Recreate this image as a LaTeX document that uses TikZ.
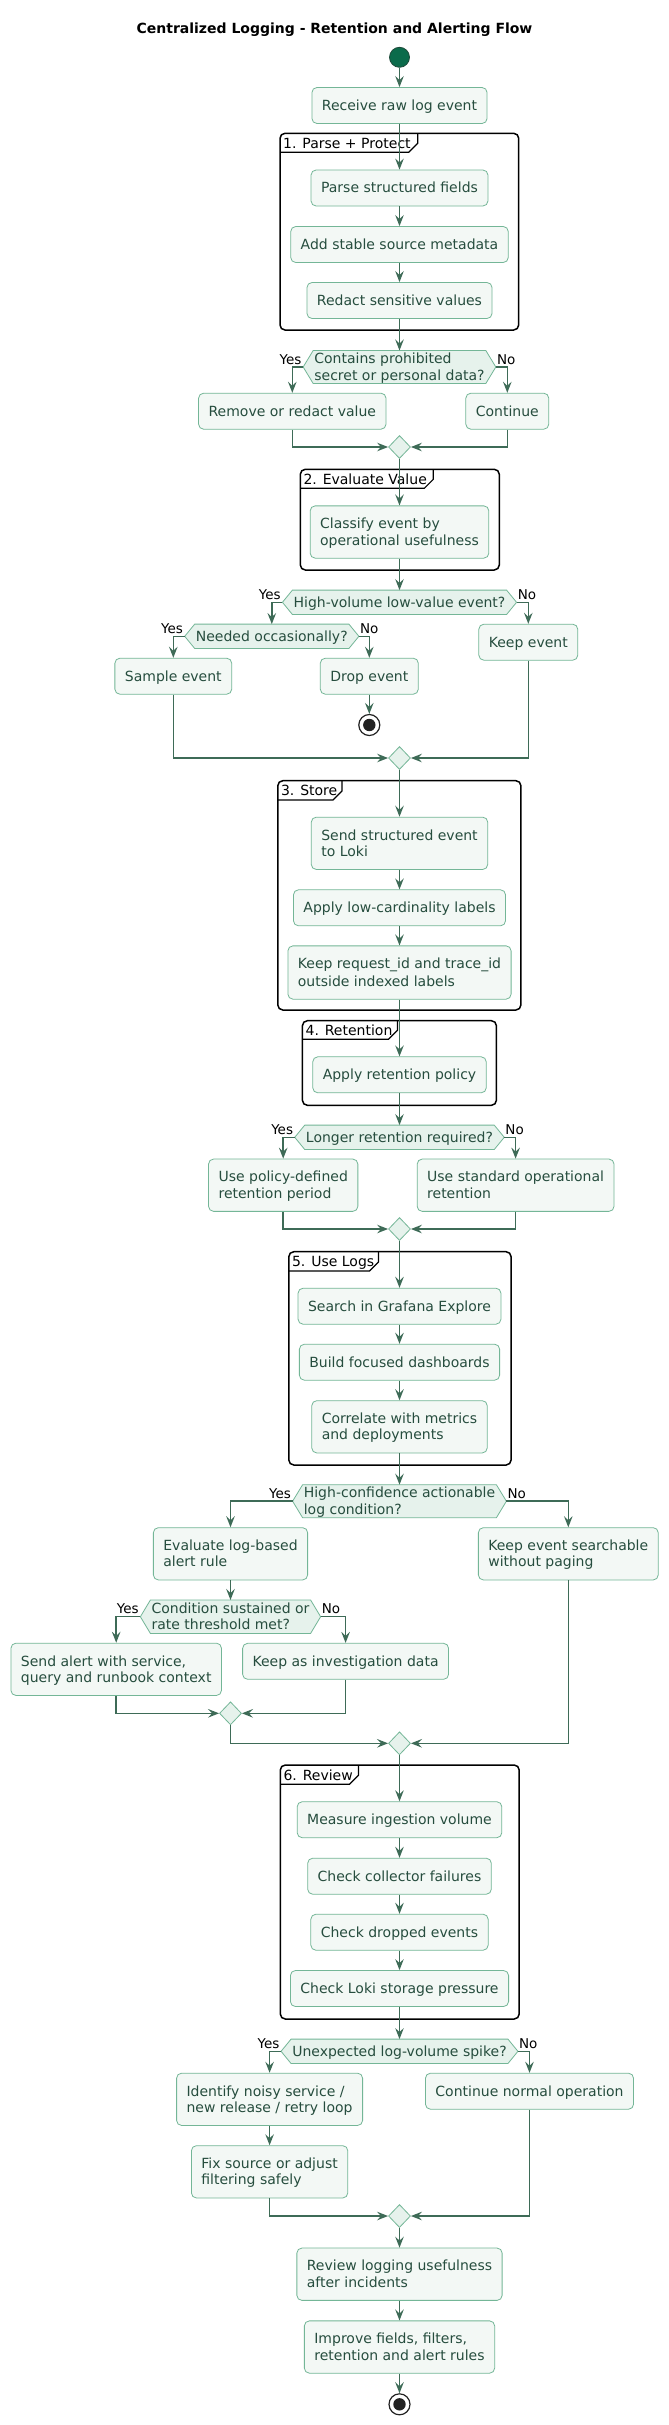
\documentclass[tikz,border=0pt]{standalone}
\usepackage{fontspec}
\setmainfont{DejaVu Sans}
\usetikzlibrary{arrows.meta,shapes.geometric,backgrounds,calc}
\definecolor{arrowc}{HTML}{3E6B57}
\definecolor{boxborder}{HTML}{74B697}
\definecolor{boxfill}{HTML}{F3F8F5}
\definecolor{decfill}{HTML}{E6F2EC}
\definecolor{txt}{HTML}{264D3E}
\definecolor{startfill}{HTML}{0B6B4B}
\definecolor{startborder}{HTML}{1E4A3A}
\definecolor{stopc}{HTML}{222222}
\newcommand{\fs}{\fontsize{14pt}{16.3pt}\selectfont}
\newcommand{\strt}{\rule[-3.3pt]{0pt}{16.3pt}}
\tikzset{
  actbox/.style={draw=boxborder, fill=boxfill, rounded corners=5pt, line width=0.8pt,
    inner xsep=10pt, inner ysep=9.85pt, font=\fs, text=txt, align=left},
  dectext/.style={font=\fs, text=txt, align=left, inner xsep=11pt, inner ysep=0pt},
  decshape/.style={draw=boxborder, fill=decfill, line width=0.8pt},
  mergedia/.style={diamond, draw=boxborder, fill=decfill, line width=0.8pt,
    minimum width=22pt, minimum height=23pt, inner sep=0pt},
  flowline/.style={draw=arrowc, line width=1.5pt, -{Stealth[length=11pt,width=8.5pt,inset=4pt]}},
  brlabel/.style={font=\fontsize{13.5pt}{16pt}\selectfont, inner sep=0pt, text=black},
  gframe/.style={draw=black, line width=1.5pt, rounded corners=5pt, fill=white},
  gtab/.style={draw=black, line width=1.2pt},
  glabel/.style={font=\fs, inner sep=0pt, text=black},
  startnode/.style={circle, fill=startfill, draw=startborder, line width=0.8pt, minimum size=20pt, inner sep=0pt},
  stopnode/.style={circle, fill=white, draw=stopc, line width=1.2pt, minimum size=21pt, inner sep=0pt,
    path picture={\fill[stopc] (path picture bounding box.center) circle (6.2pt);}}
}
\newcommand{\decision}[5]{%
  \node[dectext, minimum height=#4pt] (#1) at (#2,#3) {#5};
  \begin{scope}[on background layer]
    \draw[decshape] (#1.west) -- ([xshift=10pt]#1.north west) -- ([xshift=-10pt]#1.north east) -- (#1.east) -- ([xshift=-10pt]#1.south east) -- ([xshift=10pt]#1.south west) -- cycle;
  \end{scope}}
\newcommand{\flowgroup}[8]{%
  \begin{scope}[on background layer]
    \draw[gframe] (#1,#2) rectangle (#3,#4);
    \draw[gtab] (#1,#6) -- (#5-9,#6) -- (#5,#6-9) -- (#5,#2);
  \end{scope}
  \node[glabel, anchor=base west] (#7) at (#1+3,#2+15) {#8};}
\newcommand{\yesno}[1]{%
  \node[brlabel, anchor=base east] (#1yes) at ([xshift=-1.5pt,yshift=3pt]#1.west) {Yes};
  \node[brlabel, anchor=base west] (#1no) at ([xshift=1pt,yshift=3pt]#1.east) {No};}
\begin{document}
\begin{tikzpicture}[x=1pt,y=-1pt]
\useasboundingbox (0,0) rectangle (669,2425);
\begin{scope}[on background layer]
  \fill[white] (0,0) rectangle (669,2425);
\end{scope}

\node[font=\fs\bfseries, anchor=base, inner sep=0pt] (title) at (334.5,33.3) {Centralized Logging - Retention and Alerting Flow};

\node[startnode] (start) at (399.5,57.3) {};
\node[actbox] (recv) at (399.5,105.5) {\strt Receive raw log event};
\node[actbox] (parse) at (399.5,188) {\strt Parse structured fields};
\node[actbox] (meta) at (399.5,244.5) {\strt Add stable source metadata};
\node[actbox] (redact) at (399.5,300.5) {\strt Redact sensitive values};
\decision{d1}{399.5}{367}{32.6}{\strt Contains prohibited\\\strt secret or personal data?}
\node[actbox] (remove) at (292.3,411.2) {\strt Remove or redact value};
\node[actbox] (cont) at (507.3,411.2) {\strt Continue};
\node[mergedia] (m1) at (399.5,447) {};
\node[actbox] (classify) at (399.5,532) {\strt Classify event by\\\strt operational usefulness};
\decision{d2}{399.5}{602.3}{24}{\strt High-volume low-value event?}
\decision{d3}{271.8}{636.3}{24}{\strt Needed occasionally?}
\node[actbox] (keep) at (528.3,642.2) {\strt Keep event};
\node[actbox] (sample) at (173.3,676.2) {\strt Sample event};
\node[actbox] (drop) at (369.3,676.2) {\strt Drop event};
\node[stopnode] (stop1) at (369.3,725) {};
\node[mergedia] (m2) at (399.5,758) {};
\node[actbox] (send) at (399.5,843.3) {\strt Send structured event\\\strt to Loki};
\node[actbox] (labels) at (399.5,907.8) {\strt Apply low-cardinality labels};
\node[actbox] (keepreq) at (399.5,972.5) {\strt Keep request\_id and trace\_id\\\strt outside indexed labels};
\node[actbox] (retpol) at (399.5,1074.8) {\strt Apply retention policy};
\decision{d4}{399.5}{1137.3}{24}{\strt Longer retention required?}
\node[actbox] (policy) at (283.2,1185.2) {\strt Use policy-defined\\\strt retention period};
\node[actbox] (standard) at (515.6,1185.2) {\strt Use standard operational\\\strt retention};
\node[mergedia] (m3) at (399.5,1229) {};
\node[actbox] (search) at (399.5,1306.2) {\strt Search in Grafana Explore};
\node[actbox] (build) at (399.5,1362.2) {\strt Build focused dashboards};
\node[actbox] (corr) at (399.5,1426.8) {\strt Correlate with metrics\\\strt and deployments};
\decision{d5}{399.5}{1501.2}{32.6}{\strt High-confidence actionable\\\strt log condition?}
\node[actbox] (eval) at (230.5,1553.8) {\strt Evaluate log-based\\\strt alert rule};
\node[actbox] (searchable) at (568.3,1553.8) {\strt Keep event searchable\\\strt without paging};
\decision{d6}{230.5}{1616.7}{33}{\strt Condition sustained or\\\strt rate threshold met?}
\node[actbox] (alert) at (116.2,1669.3) {\strt Send alert with service,\\\strt query and runbook context};
\node[actbox] (invest) at (345.6,1661.3) {\strt Keep as investigation data};
\node[mergedia] (m4) at (230.5,1713.3) {};
\node[mergedia] (m5) at (399.5,1743.3) {};
\node[actbox] (measure) at (399.5,1819.7) {\strt Measure ingestion volume};
\node[actbox] (collector) at (399.5,1876.2) {\strt Check collector failures};
\node[actbox] (dropped) at (399.5,1932.2) {\strt Check dropped events};
\node[actbox] (lokistor) at (399.5,1988.5) {\strt Check Loki storage pressure};
\decision{d7}{399.5}{2051.3}{24}{\strt Unexpected log-volume spike?}
\node[actbox] (identify) at (269.6,2099.3) {\strt Identify noisy service /\\\strt new release / retry loop};
\node[actbox] (normal) at (529.5,2091.2) {\strt Continue normal operation};
\node[actbox] (fix) at (269.6,2171.8) {\strt Fix source or adjust\\\strt filtering safely};
\node[mergedia] (m6) at (399.5,2216) {};
\node[actbox] (review) at (399.5,2274.2) {\strt Review logging usefulness\\\strt after incidents};
\node[actbox] (improve) at (399.5,2347) {\strt Improve fields, filters,\\\strt retention and alert rules};
\node[stopnode] (stop2) at (399.5,2404.3) {};

\yesno{d1}\yesno{d2}\yesno{d3}\yesno{d4}\yesno{d5}\yesno{d6}\yesno{d7}

\flowgroup{280}{133.3}{518.7}{330}{417.7}{152.3}{g1}{1. Parse + Protect}
\flowgroup{300.3}{469.3}{499.3}{570}{433.3}{488.3}{g2}{2. Evaluate Value}
\flowgroup{277.8}{780.7}{520.9}{1010}{342}{800}{g3}{3. Store}
\flowgroup{302.4}{1020.7}{496.4}{1105.3}{397.4}{1039.3}{g4}{4. Retention}
\flowgroup{288.8}{1251.7}{511.1}{1465}{378.4}{1271}{g5}{5. Use Logs}
\flowgroup{280.3}{1765}{519.2}{2019}{358.4}{1784.3}{g6}{6. Review}

\draw[flowline] (start.south) -- (recv.north);
\draw[flowline] (recv.south) -- (parse.north);
\draw[flowline] (parse.south) -- (meta.north);
\draw[flowline] (meta.south) -- (redact.north);
\draw[flowline] (redact.south) -- (d1.north);
\draw[flowline] (d1.west) -| (remove.north);
\draw[flowline] (d1.east) -| (cont.north);
\draw[flowline] (remove.south) |- (m1.west);
\draw[flowline] (cont.south) |- (m1.east);
\draw[flowline] (m1.south) -- (classify.north);
\draw[flowline] (classify.south) -- (d2.north);
\draw[flowline] (d2.west) -| (d3.north);
\draw[flowline] (d2.east) -| (keep.north);
\draw[flowline] (d3.west) -| (sample.north);
\draw[flowline] (d3.east) -| (drop.north);
\draw[flowline] (drop.south) -- (stop1.north);
\draw[flowline] (sample.south) |- (m2.west);
\draw[flowline] (keep.south) |- (m2.east);
\draw[flowline] (m2.south) -- (send.north);
\draw[flowline] (send.south) -- (labels.north);
\draw[flowline] (labels.south) -- (keepreq.north);
\draw[flowline] (keepreq.south) -- (retpol.north);
\draw[flowline] (retpol.south) -- (d4.north);
\draw[flowline] (d4.west) -| (policy.north);
\draw[flowline] (d4.east) -| (standard.north);
\draw[flowline] (policy.south) |- (m3.west);
\draw[flowline] (standard.south) |- (m3.east);
\draw[flowline] (m3.south) -- (search.north);
\draw[flowline] (search.south) -- (build.north);
\draw[flowline] (build.south) -- (corr.north);
\draw[flowline] (corr.south) -- (d5.north);
\draw[flowline] (d5.west) -| (eval.north);
\draw[flowline] (d5.east) -| (searchable.north);
\draw[flowline] (eval.south) -- (d6.north);
\draw[flowline] (d6.west) -| (alert.north);
\draw[flowline] (d6.east) -| (invest.north);
\draw[flowline] (alert.south) |- (m4.west);
\draw[flowline] (invest.south) |- (m4.east);
\draw[flowline] (m4.south) |- (m5.west);
\draw[flowline] (searchable.south) |- (m5.east);
\draw[flowline] (m5.south) -- (measure.north);
\draw[flowline] (measure.south) -- (collector.north);
\draw[flowline] (collector.south) -- (dropped.north);
\draw[flowline] (dropped.south) -- (lokistor.north);
\draw[flowline] (lokistor.south) -- (d7.north);
\draw[flowline] (d7.west) -| (identify.north);
\draw[flowline] (d7.east) -| (normal.north);
\draw[flowline] (identify.south) -- (fix.north);
\draw[flowline] (fix.south) |- (m6.west);
\draw[flowline] (normal.south) |- (m6.east);
\draw[flowline] (m6.south) -- (review.north);
\draw[flowline] (review.south) -- (improve.north);
\draw[flowline] (improve.south) -- (stop2.north);
\end{tikzpicture}
\end{document}
